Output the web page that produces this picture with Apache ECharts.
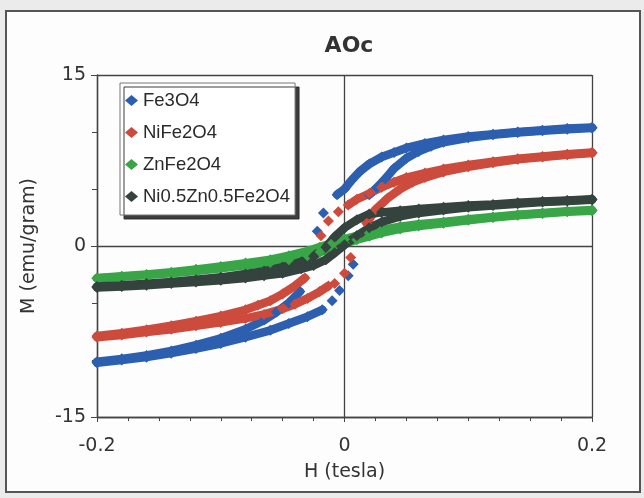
<!DOCTYPE html>
<html>
<head>
<meta charset="utf-8">
<script src="https://cdn.jsdelivr.net/npm/echarts@6/dist/echarts.min.js"></script>
<style>
  html, body { margin: 0; padding: 0; background: #ebebeb; }
  #chart { width: 644px; height: 498px; }
</style>
</head>
<body>
<div id="chart"></div>
<script>
// Magnetisation loops, M (emu/gram) against H (tesla).
// Each loop: "down" branch (field swept from +0.2 to -0.2) and "up" branch (-0.2 to +0.2).
// Near zero field the readings are sparse, so they are kept as separate point lists.

const names = ['Fe3O4', 'NiFe2O4', 'ZnFe2O4', 'Ni0.5Zn0.5Fe2O4'];
const colors = ['#2d5fb0', '#cc4b3c', '#38a647', '#34433e'];

const xTicks = [-0.2, 0, 0.2];
const yTicks = [-15, 0, 15];

// Fe3O4
const fe3o4Down = [[0.2,10.4],[0.18,10.3],[0.16,10.15],[0.14,10.0],[0.12,9.8],[0.1,9.6],[0.08,9.3],[0.065,9.0],[0.05,8.6],[0.04,8.2],[0.03,7.8],[0.02,7.2],[0.012,6.5],[0.006,5.8],[0,5.0],[-0.006,4.5]];
const fe3o4DownSparse = [[-0.017,2.9],[-0.022,1.3]];
const fe3o4DownTail = [[-0.036,-4.0],[-0.045,-5.0],[-0.055,-5.8],[-0.065,-6.5],[-0.08,-7.3],[-0.1,-8.1],[-0.12,-8.7],[-0.14,-9.2],[-0.16,-9.6],[-0.18,-9.9],[-0.2,-10.15]];
const fe3o4Up = [[-0.2,-10.25],[-0.18,-10.0],[-0.16,-9.75],[-0.14,-9.4],[-0.12,-9.0],[-0.1,-8.55],[-0.08,-8.0],[-0.06,-7.4],[-0.045,-6.8],[-0.03,-6.2],[-0.018,-5.6]];
const fe3o4UpSparse = [[-0.01,-4.8],[-0.004,-3.9],[0.003,-2.6],[0.007,-1.6]];
const fe3o4UpTail = [[0.02,4.5],[0.026,5.1],[0.033,5.9],[0.04,6.8],[0.05,7.7],[0.06,8.3],[0.07,8.75],[0.08,9.1],[0.1,9.5],[0.12,9.75],[0.14,9.95],[0.16,10.1],[0.18,10.25],[0.2,10.35]];

// NiFe2O4
const nife2o4Down = [[0.2,8.2],[0.18,8.05],[0.16,7.85],[0.14,7.65],[0.12,7.4],[0.1,7.1],[0.08,6.75],[0.065,6.4],[0.05,6.0],[0.04,5.6],[0.03,5.15],[0.02,4.6],[0.01,4.1],[0.003,3.6]];
const nife2o4DownSparse = [[-0.005,3.0],[-0.013,2.2],[-0.019,0.9]];
const nife2o4DownTail = [[-0.032,-2.8],[-0.04,-3.5],[-0.05,-4.2],[-0.06,-4.8],[-0.07,-5.2],[-0.08,-5.6],[-0.1,-6.15],[-0.12,-6.6],[-0.14,-7.0],[-0.16,-7.35],[-0.18,-7.65],[-0.2,-7.9]];
const nife2o4Up = [[-0.2,-8.0],[-0.18,-7.8],[-0.16,-7.55],[-0.14,-7.3],[-0.12,-7.0],[-0.1,-6.7],[-0.08,-6.35],[-0.065,-6.0],[-0.05,-5.5],[-0.04,-5.1],[-0.03,-4.6],[-0.02,-4.0],[-0.013,-3.5]];
const nife2o4UpSparse = [[-0.008,-3.3],[0,-2.4],[0.005,-1.0]];
const nife2o4UpTail = [[0.018,2.0],[0.025,3.2],[0.035,4.2],[0.045,5.0],[0.055,5.6],[0.065,6.0],[0.08,6.5],[0.1,6.95],[0.12,7.3],[0.14,7.6],[0.16,7.8],[0.18,8.0],[0.2,8.15]];

// ZnFe2O4
const znfe2o4Down = [[0.2,3.15],[0.18,3.05],[0.16,2.9],[0.14,2.75],[0.12,2.55],[0.1,2.35],[0.08,2.1],[0.06,1.9],[0.045,1.7],[0.03,1.4],[0.02,1.15],[0.01,0.9],[0,0.6],[-0.01,0.25],[-0.02,-0.1],[-0.03,-0.45],[-0.045,-0.85],[-0.06,-1.2],[-0.08,-1.5],[-0.1,-1.8],[-0.12,-2.05],[-0.14,-2.3],[-0.16,-2.5],[-0.18,-2.65],[-0.2,-2.8]];
const znfe2o4Up = [[-0.2,-2.85],[-0.18,-2.7],[-0.16,-2.55],[-0.14,-2.4],[-0.12,-2.2],[-0.1,-1.95],[-0.08,-1.7],[-0.06,-1.45],[-0.045,-1.2],[-0.03,-0.85],[-0.02,-0.55],[-0.01,-0.2],[0,0.2],[0.01,0.55],[0.02,0.85],[0.03,1.15],[0.045,1.5],[0.06,1.75],[0.08,2.0],[0.1,2.25],[0.12,2.5],[0.14,2.7],[0.16,2.85],[0.18,3.0],[0.2,3.1]];

// Ni0.5Zn0.5Fe2O4
const nizn05Down = [[0.2,4.1],[0.18,4.0],[0.16,3.9],[0.14,3.8],[0.12,3.65],[0.1,3.55],[0.08,3.4],[0.06,3.25],[0.045,3.1],[0.03,2.95],[0.02,2.8],[0.01,2.3],[0,1.6],[-0.008,0.8],[-0.015,-0.1],[-0.025,-0.9],[-0.035,-1.4],[-0.05,-1.85],[-0.065,-2.2],[-0.08,-2.45],[-0.1,-2.75],[-0.12,-2.95],[-0.14,-3.15],[-0.16,-3.3],[-0.18,-3.45],[-0.2,-3.55]];
const nizn05Up = [[-0.2,-3.65],[-0.18,-3.55],[-0.16,-3.45],[-0.14,-3.3],[-0.12,-3.15],[-0.1,-3.0],[-0.08,-2.8],[-0.065,-2.6],[-0.05,-2.4],[-0.035,-2.0],[-0.025,-1.7],[-0.015,-1.2],[-0.008,-0.6],[0,0.1],[0.01,0.9],[0.02,1.6],[0.03,2.1],[0.045,2.6],[0.06,2.9],[0.08,3.15],[0.1,3.4],[0.12,3.55],[0.14,3.7],[0.16,3.85],[0.18,3.95],[0.2,4.05]];

const loops = [
  { lines: [fe3o4Down, fe3o4DownTail, fe3o4Up, fe3o4UpTail], points: [fe3o4DownSparse, fe3o4UpSparse] },
  { lines: [nife2o4Down, nife2o4DownTail, nife2o4Up, nife2o4UpTail], points: [nife2o4DownSparse, nife2o4UpSparse] },
  { lines: [znfe2o4Down, znfe2o4Up], points: [] },
  { lines: [nizn05Down, nizn05Up], points: [] }
];

const series = [];
loops.forEach(function (loop, i) {
  loop.lines.forEach(function (branch) {
    series.push({
      name: names[i],
      type: 'line',
      data: branch,
      symbol: 'diamond',
      symbolSize: 11,
      showSymbol: true,
      itemStyle: { color: colors[i], opacity: 1 },
      lineStyle: { color: colors[i], width: 8.5, cap: 'round', join: 'round' },
      animation: false,
      silent: true
    });
  });
  loop.points.forEach(function (pts) {
    series.push({
      name: names[i],
      type: 'scatter',
      data: pts,
      symbol: 'diamond',
      symbolSize: 11,
      itemStyle: { color: colors[i], opacity: 1 },
      animation: false,
      silent: true
    });
  });
});

const axisFont = 'DejaVu Sans, Verdana, sans-serif';
const chart = echarts.init(document.getElementById('chart'), null, { renderer: 'canvas' });

chart.setOption({
  backgroundColor: '#ebebeb',
  animation: false,
  graphic: [{
    type: 'rect',
    z: -10,
    shape: { x: 6, y: 11, width: 634, height: 481 },
    style: { fill: '#fdfdfd', stroke: '#555', lineWidth: 2 }
  }],
  title: {
    text: 'AOc',
    left: 344,
    top: 30,
    textAlign: 'center',
    textStyle: { fontFamily: axisFont, fontWeight: 'bold', fontSize: 22, color: '#333' }
  },
  legend: {
    data: names,
    orient: 'vertical',
    left: 120,
    top: 83,
    padding: [8, 5, 9, 5],
    itemGap: 13,
    itemWidth: 13,
    itemHeight: 11,
    icon: 'diamond',
    selectedMode: false,
    backgroundColor: '#ffffff',
    borderColor: '#777',
    borderWidth: 1,
    shadowColor: 'rgba(40,40,40,0.9)',
    shadowOffsetX: 4,
    shadowOffsetY: 4,
    shadowBlur: 0,
    textStyle: { fontFamily: 'Liberation Sans, Arial, sans-serif', fontSize: 18.5, color: '#2a2a2a' }
  },
  grid: { left: 97, right: 52, top: 75, bottom: 81, containLabel: false },
  xAxis: {
    type: 'value',
    min: xTicks[0],
    max: xTicks[xTicks.length - 1],
    interval: 0.2,
    name: 'H (tesla)',
    nameLocation: 'middle',
    nameGap: 46,
    nameTextStyle: { fontFamily: axisFont, fontSize: 19, color: '#333' },
    axisLine: { show: true, onZero: false, lineStyle: { color: '#444', width: 1.4 } },
    axisTick: { show: true, inside: false, length: 5, lineStyle: { color: '#444' } },
    minorTick: { show: true, splitNumber: 8, length: 4, lineStyle: { color: '#444' } },
    splitLine: { show: true, lineStyle: { color: '#444', width: 1.3 } },
    axisLabel: { fontFamily: axisFont, fontSize: 19, color: '#333', margin: 20,
      formatter: function (v) { return String(Math.round(v * 10) / 10); } }
  },
  yAxis: {
    type: 'value',
    min: yTicks[0],
    max: yTicks[yTicks.length - 1],
    interval: 15,
    name: 'M (emu/gram)',
    nameLocation: 'middle',
    nameGap: 58,
    nameTextStyle: { fontFamily: axisFont, fontSize: 19, color: '#333' },
    axisLine: { show: true, onZero: false, lineStyle: { color: '#444', width: 1.4 } },
    axisTick: { show: true, inside: false, length: 6, lineStyle: { color: '#444' } },
    minorTick: { show: true, splitNumber: 3, length: 5, lineStyle: { color: '#444' } },
    splitLine: { show: true, lineStyle: { color: '#444', width: 1.3 } },
    axisLabel: { fontFamily: axisFont, fontSize: 19, color: '#333', margin: 11 }
  },
  series: series
});
</script>
</body>
</html>
